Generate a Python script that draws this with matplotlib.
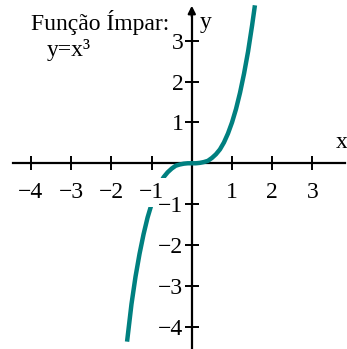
import matplotlib.pyplot as plt
import numpy as np

# points read along the curve y = x^3
x_pts = [-1.61, -1.50, -1.40, -1.30, -1.20, -1.10, -1.00, -0.90, -0.80, -0.70,
         -0.60, -0.50, -0.40, -0.30, -0.20, -0.10, 0.00, 0.10, 0.20, 0.30,
         0.40, 0.50, 0.60, 0.70, 0.80, 0.90, 1.00, 1.10, 1.20, 1.30,
         1.40, 1.50, 1.57]
y_pts = [-4.37, -3.45, -2.78, -2.22, -1.74, -1.33, -1.00, -0.73, -0.51, -0.34,
         -0.22, -0.13, -0.06, -0.03, -0.01, 0.00, 0.00, 0.00, 0.01, 0.03,
         0.06, 0.13, 0.22, 0.34, 0.51, 0.73, 1.00, 1.33, 1.73, 2.20,
         2.74, 3.38, 3.87]

x_ticks = [-4, -3, -2, -1, 1, 2, 3]
y_ticks = [-4, -3, -2, -1, 1, 2, 3]
x_labels = ['\u22124', '\u22123', '\u22122', '\u22121', '1', '2', '3']
y_labels = ['\u22124', '\u22123', '\u22122', '\u22121', '1', '2', '3']

plt.rcParams['font.family'] = ['Liberation Serif', 'DejaVu Serif']

fs = 17

fig = plt.figure(figsize=(3.47, 3.49), dpi=100)
ax = fig.add_axes([0, 0, 1, 1])
ax.set_xlim(-4.77, 3.86)
ax.set_ylim(-4.55, 4.0)

ax.plot(x_pts, y_pts, color='#008080', lw=3.2, solid_capstyle='butt', zorder=2)

# axes through the origin
for side in ['top', 'right']:
    ax.spines[side].set_visible(False)
ax.spines['left'].set_position('zero')
ax.spines['bottom'].set_position('zero')
ax.spines['left'].set_linewidth(1.6)
ax.spines['bottom'].set_linewidth(1.6)
ax.spines['bottom'].set_bounds(-4.45, 3.8)
ax.spines['left'].set_bounds(-4.55, 3.75)
ax.spines['left'].set_zorder(1)
ax.spines['bottom'].set_zorder(1)

ax.annotate('', xy=(0, 3.86), xytext=(0, 3.6),
            arrowprops=dict(arrowstyle='-|>', color='black', lw=1.6,
                            mutation_scale=11, shrinkA=0, shrinkB=0))
ax.annotate('', xy=(3.95, 0), xytext=(3.7, 0),
            arrowprops=dict(arrowstyle='-|>', color='black', lw=1.6,
                            mutation_scale=11, shrinkA=0, shrinkB=0))

ax.set_xticks(x_ticks, x_labels)
ax.set_yticks(y_ticks, y_labels)
ax.xaxis.set_zorder(3)
ax.yaxis.set_zorder(3)
ax.tick_params(direction='inout', length=10, width=1.4, labelsize=fs,
               colors='black')
ax.tick_params(axis='x', pad=8.5)
ax.tick_params(axis='y', pad=1)

# the -1 label on the x axis sits on a white patch over the curve
ax.get_xticklabels()[3].set_bbox(dict(facecolor='white', edgecolor='none', pad=2.5))

ax.text(3.58, 0.25, 'x', fontsize=fs, ha='left', va='bottom')
ax.text(0.2, 3.2, 'y', fontsize=fs, ha='left', va='bottom')

ax.text(-4.0, 3.45, 'Função Ímpar:', fontsize=fs, ha='left', va='center')
ax.text(-3.6, 2.78, 'y=x³', fontsize=fs, ha='left', va='center')

fig.savefig('out.png', dpi=100)
